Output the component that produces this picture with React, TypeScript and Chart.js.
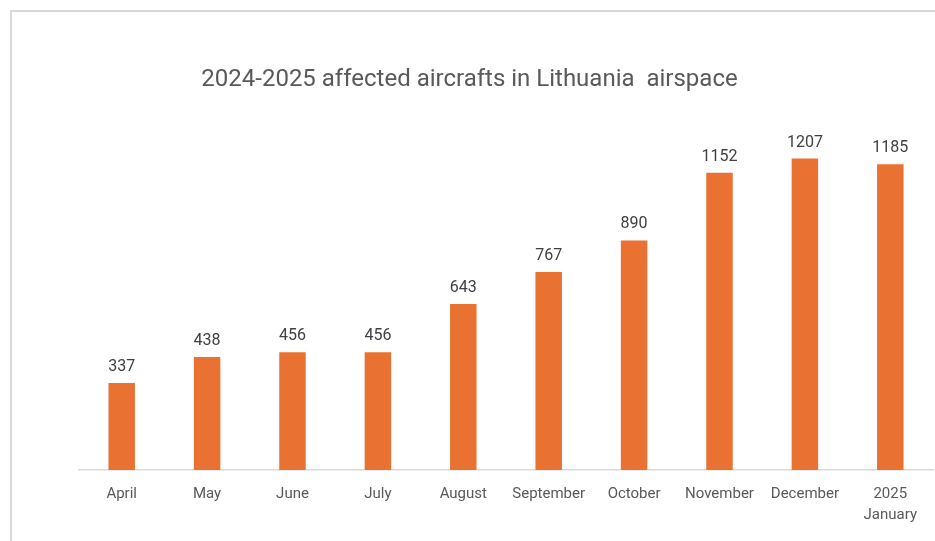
import React, { useEffect, useRef } from "react";
import { Chart, registerables } from "chart.js";

Chart.register(...registerables);

const categories: (string | string[])[] = [
  "April",
  "May",
  "June",
  "July",
  "August",
  "September",
  "October",
  "November",
  "December",
  ["2025", "January"],
];
const affectedAircrafts: number[] = [337, 438, 456, 456, 643, 767, 890, 1152, 1207, 1185];
const titleText = "2024-2025 affected aircrafts in Lithuania  airspace";

const dataLabelPlugin = {
  id: "dataLabels",
  afterDatasetsDraw(chart: any) {
    const ctx = chart.ctx;
    const meta = chart.getDatasetMeta(0);
    const values = chart.data.datasets[0].data as number[];
    ctx.save();
    ctx.font = "16px Roboto";
    ctx.fillStyle = "#404040";
    ctx.textAlign = "center";
    ctx.textBaseline = "middle";
    meta.data.forEach((bar: any, i: number) => {
      ctx.fillText(String(values[i]), bar.x, bar.y - 16);
    });
    ctx.restore();
  },
};

export default function App() {
  const canvasRef = useRef<HTMLCanvasElement | null>(null);

  useEffect(() => {
    if (!canvasRef.current) return;
    const chart = new Chart(canvasRef.current, {
      type: "bar",
      data: {
        labels: categories,
        datasets: [
          {
            data: affectedAircrafts,
            backgroundColor: "#E97132",
            borderWidth: 0,
            barPercentage: 0.31,
            categoryPercentage: 1,
          },
        ],
      },
      options: {
        animation: false,
        responsive: true,
        maintainAspectRatio: false,
        layout: { padding: { left: 6, right: 2, top: 0, bottom: 2 } },
        plugins: {
          legend: { display: false },
          tooltip: { enabled: false },
          title: {
            display: true,
            text: titleText,
            color: "#595959",
            font: { family: "Roboto", size: 24, weight: "normal" },
            padding: { top: 66, bottom: 14 },
          },
        },
        scales: {
          x: {
            grid: { display: false, drawTicks: false, tickLength: 0 },
            border: { display: true, color: "#d9d9d9", width: 1.5 },
            ticks: {
              color: "#595959",
              font: { family: "Roboto", size: 15, lineHeight: 1.4 },
              padding: 13.5,
              autoSkip: false,
              maxRotation: 0,
              minRotation: 0,
            },
          },
          y: {
            display: true,
            min: 0,
            max: 1400,
            grid: { display: false, drawTicks: false },
            border: { display: false },
            ticks: { display: false },
            afterFit: (scale: any) => {
              scale.width = 73;
            },
          },
        },
      },
      plugins: [dataLabelPlugin],
    });
    return () => chart.destroy();
  }, []);

  return (
    <div
      style={{
        position: "fixed",
        left: 0,
        top: 0,
        width: 935,
        height: 541,
        background: "#ffffff",
        overflow: "hidden",
      }}
    >
      <div
        style={{
          position: "absolute",
          left: 10,
          top: 10,
          right: 0,
          bottom: 0,
          borderTop: "2px solid #d9d9d9",
          borderLeft: "2px solid #d9d9d9",
          boxSizing: "border-box",
        }}
      />
      <div style={{ position: "absolute", left: 0, top: 0, width: 935, height: 541 }}>
        <canvas ref={canvasRef} />
      </div>
    </div>
  );
}
